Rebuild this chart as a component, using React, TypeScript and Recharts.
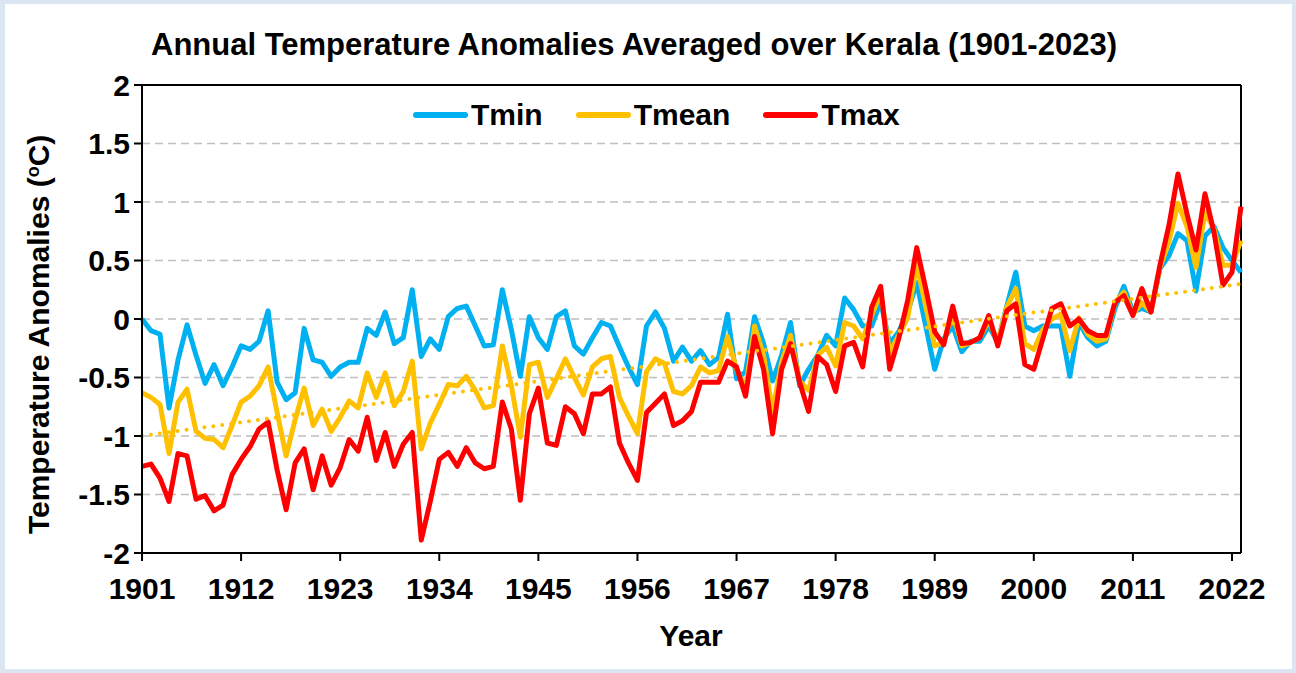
import { LineChart, Line, XAxis, YAxis, CartesianGrid, ReferenceLine, Legend } from 'recharts';

// Kerala annual temperature anomalies (°C)
const years = [
  1901, 1902, 1903, 1904, 1905, 1906, 1907, 1908, 1909, 1910,
  1911, 1912, 1913, 1914, 1915, 1916, 1917, 1918, 1919, 1920,
  1921, 1922, 1923, 1924, 1925, 1926, 1927, 1928, 1929, 1930,
  1931, 1932, 1933, 1934, 1935, 1936, 1937, 1938, 1939, 1940,
  1941, 1942, 1943, 1944, 1945, 1946, 1947, 1948, 1949, 1950,
  1951, 1952, 1953, 1954, 1955, 1956, 1957, 1958, 1959, 1960,
  1961, 1962, 1963, 1964, 1965, 1966, 1967, 1968, 1969, 1970,
  1971, 1972, 1973, 1974, 1975, 1976, 1977, 1978, 1979, 1980,
  1981, 1982, 1983, 1984, 1985, 1986, 1987, 1988, 1989, 1990,
  1991, 1992, 1993, 1994, 1995, 1996, 1997, 1998, 1999, 2000,
  2001, 2002, 2003, 2004, 2005, 2006, 2007, 2008, 2009, 2010,
  2011, 2012, 2013, 2014, 2015, 2016, 2017, 2018, 2019, 2020,
  2021, 2022, 2023,
];

const tmin = [
  0.0, -0.1, -0.13, -0.76, -0.35, -0.05, -0.31, -0.55, -0.39, -0.57,
  -0.41, -0.23, -0.26, -0.19, 0.07, -0.54, -0.69, -0.63, -0.08, -0.35,
  -0.37, -0.49, -0.41, -0.37, -0.37, -0.08, -0.14, 0.06, -0.21, -0.16,
  0.25, -0.32, -0.17, -0.26, 0.02, 0.09, 0.11, -0.06, -0.23, -0.22,
  0.25, -0.09, -0.49, 0.02, -0.16, -0.26, 0.02, 0.07, -0.23, -0.3,
  -0.16, -0.03, -0.06, -0.24, -0.41, -0.56, -0.06, 0.06, -0.08, -0.36,
  -0.24, -0.36, -0.27, -0.39, -0.33, 0.04, -0.51, -0.45, 0.02, -0.21,
  -0.53, -0.31, -0.03, -0.57, -0.43, -0.31, -0.14, -0.23, 0.18, 0.08,
  -0.06, -0.06, 0.15, -0.21, -0.11, 0.06, 0.31, -0.06, -0.43, -0.17,
  -0.06, -0.28, -0.19, -0.19, -0.06, -0.2, 0.11, 0.4, -0.06, -0.1,
  -0.06, -0.06, -0.06, -0.49, -0.03, -0.16, -0.23, -0.19, 0.09, 0.28,
  0.06, 0.09, 0.06, 0.43, 0.54, 0.73, 0.67, 0.24, 0.71, 0.79,
  0.61, 0.5, 0.4,
];

const tmean = [
  -0.63, -0.67, -0.73, -1.15, -0.71, -0.6, -0.96, -1.02, -1.03, -1.1,
  -0.91, -0.71, -0.66, -0.57, -0.41, -0.8, -1.17, -0.86, -0.59, -0.91,
  -0.77, -0.96, -0.84, -0.7, -0.76, -0.46, -0.67, -0.46, -0.74, -0.62,
  -0.36, -1.11, -0.89, -0.73, -0.56, -0.57, -0.49, -0.61, -0.76, -0.74,
  -0.23, -0.57, -1.01, -0.39, -0.37, -0.67, -0.51, -0.34, -0.5, -0.65,
  -0.41, -0.34, -0.32, -0.67, -0.83, -0.98, -0.45, -0.34, -0.38, -0.62,
  -0.64, -0.57, -0.41, -0.46, -0.44, -0.15, -0.43, -0.6, -0.06, -0.31,
  -0.79, -0.37, -0.14, -0.53, -0.61, -0.31, -0.24, -0.4, -0.03, -0.06,
  -0.17, 0.03, 0.23, -0.29, -0.14, 0.01, 0.47, 0.11, -0.23, -0.2,
  0.06, -0.23, -0.2, -0.16, -0.01, -0.2, 0.1, 0.26, -0.21, -0.26,
  -0.09, 0.0, 0.04, -0.27, 0.01, -0.13, -0.19, -0.17, 0.14, 0.23,
  0.04, 0.14, 0.06, 0.44, 0.66, 0.99, 0.79, 0.44, 0.91, 0.77,
  0.46, 0.46, 0.67,
];

const tmax = [
  -1.26, -1.24, -1.36, -1.56, -1.15, -1.17, -1.54, -1.51, -1.64, -1.59,
  -1.33, -1.2, -1.09, -0.94, -0.88, -1.29, -1.63, -1.23, -1.11, -1.46,
  -1.17, -1.42, -1.27, -1.03, -1.13, -0.84, -1.21, -0.97, -1.26, -1.07,
  -0.97, -1.89, -1.56, -1.2, -1.14, -1.26, -1.1, -1.23, -1.28, -1.26,
  -0.71, -0.94, -1.55, -0.81, -0.59, -1.06, -1.08, -0.75, -0.81, -0.98,
  -0.64, -0.64, -0.58, -1.06, -1.23, -1.38, -0.8, -0.72, -0.64, -0.91,
  -0.87, -0.79, -0.54, -0.54, -0.54, -0.36, -0.41, -0.66, -0.15, -0.43,
  -0.98, -0.43, -0.21, -0.54, -0.79, -0.32, -0.39, -0.62, -0.23, -0.2,
  -0.41, 0.1, 0.28, -0.43, -0.17, 0.16, 0.61, 0.26, -0.11, -0.22,
  0.11, -0.21, -0.2, -0.16, 0.03, -0.23, 0.07, 0.13, -0.39, -0.43,
  -0.17, 0.09, 0.13, -0.06, 0.0, -0.1, -0.14, -0.14, 0.14, 0.2,
  0.03, 0.26, 0.06, 0.46, 0.8, 1.24, 0.9, 0.59, 1.07, 0.74,
  0.29, 0.4, 0.96,
];

// linear trend of Tmean (dotted), end points
const trendYears = [1901, 2023];
const trendValues = [-1.0, 0.3];

const seriesNames = ['Tmin', 'Tmean', 'Tmax'];
const yearTicks = [1901, 1912, 1923, 1934, 1945, 1956, 1967, 1978, 1989, 2000, 2011, 2022];
const yTicks = [-2, -1.5, -1, -0.5, 0, 0.5, 1, 1.5, 2];

const data = years.map((year, i) => ({
  year,
  Tmin: tmin[i],
  Tmean: tmean[i],
  Tmax: tmax[i],
}));

const FONT = 'Arial, "Liberation Sans", sans-serif';
const tickStyle = { fill: '#000', fontSize: 30, fontWeight: 700, fontFamily: FONT };

// legend keeps the series order (Recharts sorts by name otherwise)
const LegendContent = ({ payload }: any) => {
  const items = [...(payload || [])].sort(
    (a: any, b: any) => seriesNames.indexOf(a.value) - seriesNames.indexOf(b.value)
  );
  return (
    <div style={{ display: 'flex', alignItems: 'center', fontFamily: FONT, fontWeight: 700, fontSize: 30 }}>
      {items.map((entry: any) => (
        <div key={entry.value} style={{ display: 'flex', alignItems: 'center', marginRight: 33 }}>
          <span style={{ display: 'inline-block', width: 55, height: 6, borderRadius: 3, background: entry.color, marginRight: 3 }} />
          <span style={{ color: '#000', lineHeight: '34px' }}>{entry.value}</span>
        </div>
      ))}
    </div>
  );
};

export default function App() {
  return (
    <div style={{ position: 'absolute', left: 0, top: 0, width: 1296, height: 673, background: '#DCE6F2' }}>
      <div style={{ position: 'absolute', left: 5, top: 4, width: 1287, height: 665, background: '#fff' }} />

      <div style={{ position: 'absolute', left: 0, top: 26, width: 1268, textAlign: 'center', fontFamily: FONT, fontWeight: 700, fontSize: 31, lineHeight: '38px', color: '#000', whiteSpace: 'nowrap' }}>
        Annual Temperature Anomalies Averaged over Kerala (1901-2023)
      </div>

      <div style={{ position: 'absolute', left: 36 - 260, top: 331 - 18, width: 520, textAlign: 'center', transform: 'rotate(-90deg)', fontFamily: FONT, fontWeight: 700, fontSize: 30, lineHeight: '36px', color: '#000', whiteSpace: 'nowrap' }}>
        Temperature Anomalies (<sup style={{ fontSize: '0.6em', verticalAlign: '0.6em' }}>o</sup>C)
      </div>

      <div style={{ position: 'absolute', left: 591, top: 617, width: 200, textAlign: 'center', fontFamily: FONT, fontWeight: 700, fontSize: 30, lineHeight: '38px', color: '#000' }}>
        Year
      </div>

      <div style={{ position: 'absolute', left: 0, top: 0 }}>
        <LineChart width={1296} height={673} data={data} margin={{ top: 85, right: 55, bottom: 20, left: 0 }}>
          <CartesianGrid vertical={false} stroke="#BFBFBF" strokeWidth={1.5} strokeDasharray="8 5" />
          <XAxis
            dataKey="year"
            type="number"
            domain={[1901, 2023]}
            ticks={yearTicks}
            height={100}
            tickSize={8}
            tickMargin={17}
            axisLine={{ stroke: '#000', strokeWidth: 2 }}
            tickLine={{ stroke: '#000', strokeWidth: 2 }}
            tick={tickStyle}
          />
          <YAxis
            domain={[-2, 2]}
            ticks={yTicks}
            width={142}
            tickSize={8}
            tickMargin={4}
            axisLine={{ stroke: '#000', strokeWidth: 2 }}
            tickLine={{ stroke: '#000', strokeWidth: 2 }}
            tick={tickStyle}
          />
          <ReferenceLine y={2} stroke="#000" strokeWidth={2} />
          <ReferenceLine x={2023} stroke="#000" strokeWidth={2} />
          <Legend
            layout="horizontal"
            verticalAlign="middle"
            align="center"
            wrapperStyle={{ top: 98, left: 413, width: 620 }}
            content={<LegendContent />}
          />
          <Line type="linear" dataKey="Tmin" name="Tmin" stroke="#00B0F0" strokeWidth={5} dot={false} activeDot={false} strokeLinejoin="round" isAnimationActive={false} />
          <Line type="linear" dataKey="Tmean" name="Tmean" stroke="#FFC000" strokeWidth={5} dot={false} activeDot={false} strokeLinejoin="round" isAnimationActive={false} />
          <Line type="linear" dataKey="Tmax" name="Tmax" stroke="#FF0000" strokeWidth={5} dot={false} activeDot={false} strokeLinejoin="round" isAnimationActive={false} />
          <ReferenceLine
            segment={[
              { x: trendYears[0], y: trendValues[0] },
              { x: trendYears[1], y: trendValues[1] },
            ]}
            stroke="#FFC000"
            strokeWidth={4}
            strokeDasharray="0 9"
            strokeLinecap="round"
          />
        </LineChart>
      </div>
    </div>
  );
}
